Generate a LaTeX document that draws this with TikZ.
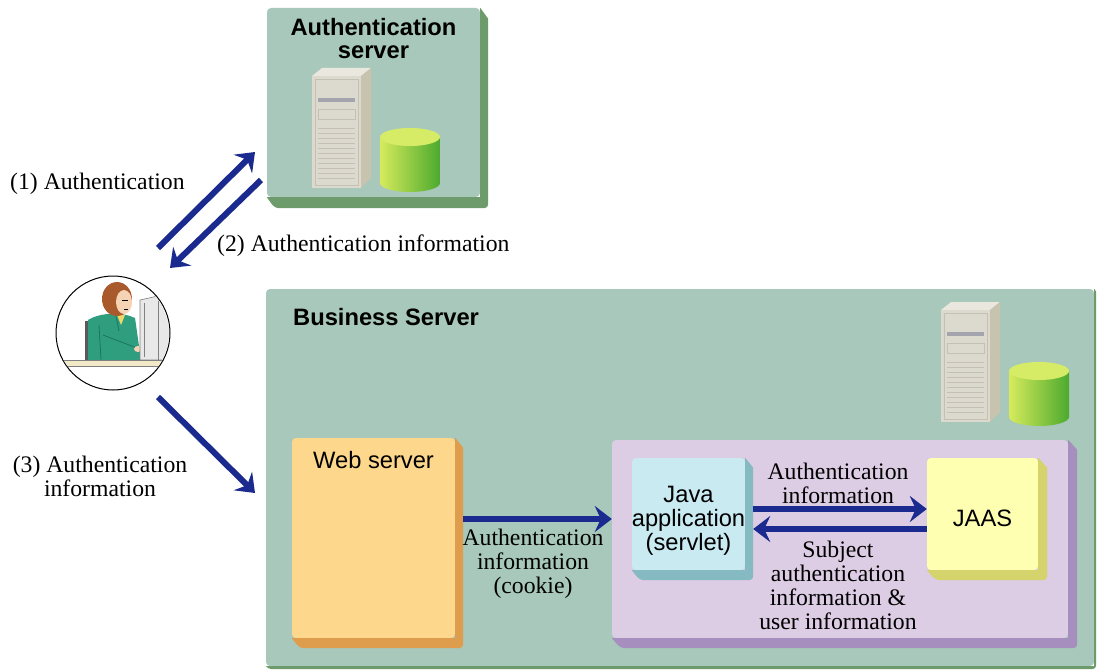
\documentclass[tikz,border=0pt]{standalone}
\usepackage{fontspec}
\setmainfont{Liberation Serif}
\setsansfont{Liberation Sans}
\usetikzlibrary{arrows.meta,calc}

\definecolor{srvface}{HTML}{A7C8BA}
\definecolor{srvedge}{HTML}{6E9B6B}
\definecolor{webface}{HTML}{FDD78C}
\definecolor{webedge}{HTML}{DE9D4C}
\definecolor{appface}{HTML}{DCCCE4}
\definecolor{appedge}{HTML}{A68EBF}
\definecolor{javaface}{HTML}{C9EAF1}
\definecolor{javaedge}{HTML}{86BAC3}
\definecolor{jaasface}{HTML}{FFFFB2}
\definecolor{jaasedge}{HTML}{D5D36C}
\definecolor{flowblue}{HTML}{1B2A8E}
\definecolor{towerface}{HTML}{DCDACE}
\definecolor{towertop}{HTML}{EAE8DE}
\definecolor{towerside}{HTML}{C7C3AE}
\definecolor{towerline}{HTML}{C4C1B3}
\definecolor{towerslot}{HTML}{A4A4AE}
\definecolor{drumtop}{HTML}{D7EC66}
\definecolor{drumleft}{HTML}{D6EB5C}
\definecolor{drumright}{HTML}{4CAA2E}
\definecolor{hair}{HTML}{A85A2C}
\definecolor{skin}{HTML}{F6D3B4}
\definecolor{jacket}{HTML}{2E9E7F}
\definecolor{jacketdark}{HTML}{1D7560}
\definecolor{blouse}{HTML}{EED86A}
\definecolor{chair}{HTML}{5A5A5A}
\definecolor{screen}{HTML}{E8E8E8}
\definecolor{desk}{HTML}{F2E9C9}

\tikzset{
  slab/.style={rectangle, rounded corners=4pt, fill=#1, inner sep=0pt},
  flow/.style={draw=flowblue, line width=6pt, -{Stealth[length=17pt,width=26pt,inset=6pt]}},
  note/.style={font=\fontsize{23.7}{24}\selectfont, align=center, inner sep=0pt},
  title/.style={font=\fontsize{23.7}{24}\selectfont\sffamily, align=center, inner sep=0pt},
  pics/tower/.style={code={
    % cabinet
    \fill[towertop] (0,0) -- (10,-8) -- (59,-8) -- (49,0) -- cycle;
    \fill[towerside] (49,0) -- (59,-8) -- (59,102) -- (49,112) -- cycle;
    \fill[towerface] (0,0) rectangle (49,112);
    \draw[towerline, line width=0.8pt] (3,3) rectangle (46,109);
    \fill[towerslot] (6,22) rectangle (43,26);
    \draw[towerline, line width=0.8pt] (6,33) rectangle (43,43);
    \foreach \v in {52,57,...,104}
      \draw[towerline, line width=0.6pt] (6,\v) -- (43,\v);
    % disk drum
    \shade[left color=drumleft, right color=drumright]
      (68,61) -- (68,107) arc[start angle=180, end angle=0, x radius=30, y radius=9] -- (128,61) -- cycle;
    \fill[drumtop] (98,61) ellipse [x radius=30, y radius=9];
  }},
}

% raised edge along the right and bottom of a box
\newcommand{\slabedge}[4]{%
  \fill[#2] (#1.north east) -- ++(#3,#4) [rounded corners=4pt] -- ($(#1.south east)+(#3,#4)$)
    -- ($(#1.south west)+(#3,#4)$) [sharp corners] -- (#1.south west) -- (#1.south east) -- cycle;}

\begin{document}
\begin{tikzpicture}[x=1pt, y=-1pt]
  \useasboundingbox[fill=white] (0,0) rectangle (1097,671);

  % authentication server
  \node[slab=srvface, minimum width=213pt, minimum height=189pt] (auth) at (373.5,102.5) {};
  \slabedge{auth}{srvedge}{8}{11}
  \node[title, font=\fontsize{23.7}{23}\selectfont\sffamily\bfseries] (authtxt) at (373.5,38.5) {Authentication\\server};
  \pic at (312,76) {tower};

  % business server
  \node[slab=srvface, minimum width=828pt, minimum height=377pt] (biz) at (680,477.5) {};
  \slabedge{biz}{srvedge}{2}{3}
  \node[title, anchor=west] (biztxt) at (293,317) {\bfseries Business Server};
  \pic at (941,310) {tower};

  \node[slab=webface, minimum width=163pt, minimum height=200pt] (web) at (373.5,538) {};
  \slabedge{web}{webedge}{8}{10}
  \node[title] (webtxt) at (373.5,460) {Web server};

  \node[slab=appface, minimum width=456pt, minimum height=198pt] (app) at (840,539) {};
  \slabedge{app}{appedge}{9}{10}

  \node[slab=javaface, minimum width=113pt, minimum height=112pt] (java) at (688.5,514) {};
  \slabedge{java}{javaedge}{8}{10}
  \node[title] (javatxt) at (688.5,521) {Java\\application\\(servlet)};

  \node[slab=jaasface, minimum width=111pt, minimum height=112pt] (jaas) at (982.5,514) {};
  \slabedge{jaas}{jaasedge}{9}{10}
  \node[title] (jaastxt) at (982.5,518) {JAAS};

  % user at the terminal
  \node[circle, draw, line width=1pt, fill=white, minimum size=114pt, inner sep=0pt] (user) at (113,333) {};
  \begin{scope}[shift={(user.center)}]
    \clip (0,0) circle (56pt);
    \fill[chair] (-28,-12) rectangle (-21,27);
    \fill[jacket] (-25,-13) .. controls (-12,-21) and (10,-21) .. (22,-15) -- (28,27) -- (-25,27) -- cycle;
    \draw[jacketdark, line width=0.8pt] (-10,2) -- (24,15) (3,-17) -- (6,-2) (-14,-8) -- (-12,27);
    \fill[blouse] (4,-18) -- (12,-18) -- (8,-8) -- cycle;
    \fill[hair] (4,-34) ellipse [x radius=15, y radius=17];
    \fill[skin] (11,-31) ellipse [x radius=8, y radius=12];
    \draw[line width=0.6pt] (9,-33) -- (15,-33) (11,-24) -- (15,-24);
    \fill[skin] (25,16) ellipse [x radius=4, y radius=3];
    \fill[screen, draw=gray, line width=0.6pt] (27,-33) -- (45,-37) -- (60,-37) -- (60,27) -- (27,27) -- cycle;
    \draw[gray, line width=0.6pt] (31,-30) -- (31,24) (45,-37) -- (45,27);
    \fill[desk, draw=gray, line width=0.6pt] (-60,27) rectangle (60,33);
  \end{scope}

  % request flows
  \coordinate (a1) at (158,248);
  \coordinate (b1) at (255,152);
  \coordinate (b2) at (261,180);
  \coordinate (a2) at (170,268);
  \coordinate (a3) at (158,397);
  \coordinate (b3) at (255,493);
  \draw[flow] (a1) -- (b1);
  \draw[flow] (b2) -- (a2);
  \draw[flow] (a3) -- (b3);

  \coordinate (ck) at (0,519);
  \coordinate (rq) at (0,509);
  \coordinate (rp) at (0,529);
  \draw[flow] ($(web.east |- ck)+(8,0)$) -- (app.west |- ck);
  \draw[flow] ($(java.east |- rq)+(8,0)$) -- (jaas.west |- rq);
  \draw[flow] (jaas.west |- rp) -- ($(java.east |- rp)+(8,0)$);

  % flow labels
  \node[note, anchor=west] (l1) at (10,184) {(1) Authentication};
  \node[note, anchor=west] (l2) at (217,246) {(2) Authentication information};
  \node[note] (l3) at (100,476) {(3) Authentication\\information};
  \node[note] (lck) at (533,564) {Authentication\\information\\(cookie)};
  \node[note] (lrq) at (838,483.5) {Authentication\\information};
  \node[note] (lrp) at (838,585) {Subject\\authentication\\information \&\\user information};
\end{tikzpicture}
\end{document}
